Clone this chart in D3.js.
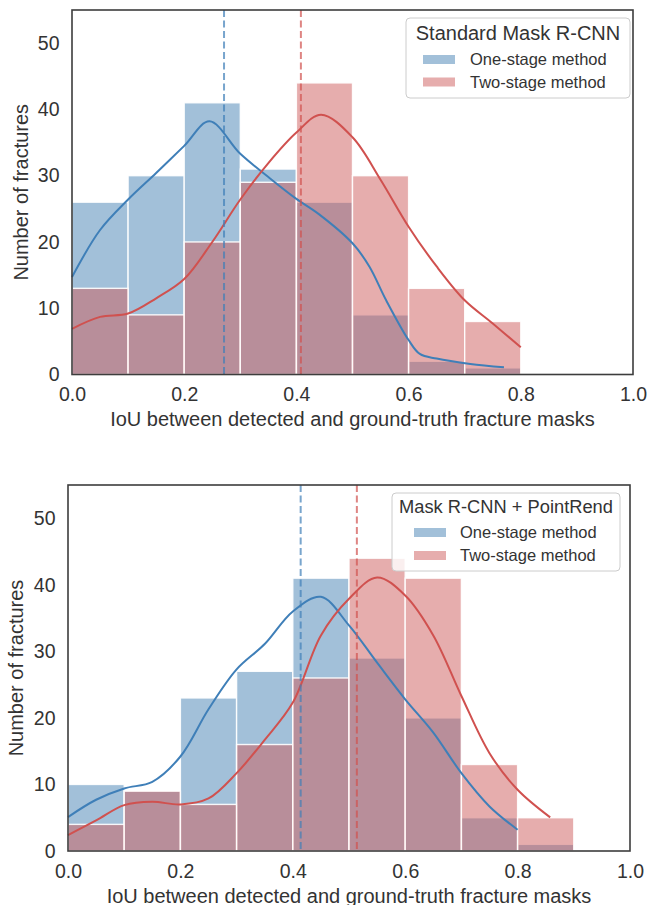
<!DOCTYPE html>
<html><head><meta charset="utf-8">
<script src="https://cdn.jsdelivr.net/npm/d3@7/dist/d3.min.js"></script>
<style>body{margin:0;background:#fff} svg{display:block}</style>
</head><body>
<svg id="c" width="649" height="905"></svg>
<script>
// ---------- data ----------
const binEdges = [0, 0.1, 0.2, 0.3, 0.4, 0.5, 0.6, 0.7, 0.8, 0.9];
const xTicks = [0, 0.2, 0.4, 0.6, 0.8, 1.0];
const yTicks = [0, 10, 20, 30, 40, 50];
const seriesNames = ["One-stage method", "Two-stage method"];
const xLabel = "IoU between detected and ground-truth fracture masks";
const yLabel = "Number of fractures";

// Panel 1: Standard Mask R-CNN
const topTitle = "Standard Mask R-CNN";
const topOne = [26, 30, 41, 31, 26, 9, 2, 1];
const topTwo = [13, 9, 20, 29, 44, 30, 13, 8];
const topMeans = [0.271, 0.408];
const topKdeOneX = [0, 0.05, 0.1, 0.15, 0.2, 0.245, 0.3, 0.35, 0.4, 0.44, 0.5, 0.53, 0.56, 0.6, 0.62, 0.65, 0.71, 0.77];
const topKdeOneY = [14.7, 21.8, 26.4, 30.4, 34.5, 38.2, 33.3, 29.8, 26.5, 24.2, 19.8, 16.3, 11.2, 5.2, 3.1, 2.4, 1.6, 1.1];
const topKdeTwoX = [0, 0.05, 0.1, 0.15, 0.2, 0.25, 0.3, 0.35, 0.4, 0.444, 0.5, 0.55, 0.6, 0.65, 0.7, 0.75, 0.8];
const topKdeTwoY = [6.9, 8.7, 9.2, 11.5, 14.4, 20.0, 26.4, 31.9, 36.5, 39.2, 35.8, 29.4, 22.3, 16.3, 11.2, 7.7, 4.1];

// Panel 2: Mask R-CNN + PointRend
const botTitle = "Mask R-CNN + PointRend";
const botOne = [10, 9, 23, 27, 41, 29, 20, 5, 1];
const botTwo = [4, 9, 7, 16, 26, 44, 41, 13, 5];
const botMeans = [0.414, 0.514];
const botKdeOneX = [0, 0.05, 0.1, 0.15, 0.2, 0.25, 0.3, 0.35, 0.4, 0.45, 0.5, 0.55, 0.6, 0.65, 0.7, 0.75, 0.8];
const botKdeOneY = [5.1, 7.7, 9.4, 10.4, 14.2, 21.3, 27.3, 31.1, 36.0, 38.2, 33.9, 28.3, 22.8, 17.8, 11.7, 6.7, 3.2];
const botKdeTwoX = [0, 0.05, 0.1, 0.15, 0.2, 0.25, 0.3, 0.35, 0.4, 0.45, 0.5, 0.55, 0.6, 0.65, 0.7, 0.75, 0.8, 0.858];
const botKdeTwoY = [2.4, 4.6, 6.9, 7.4, 7.0, 7.9, 11.7, 16.7, 22.3, 32.4, 37.9, 41.1, 38.4, 32.4, 23.3, 14.7, 9.2, 5.05];

// ---------- style ----------
const barColors = ["#4682b4", "#cd5c5c"];
const lineColors = ["#3f7fb8", "#d0514f"];
const textColor = "#333333";
const font = "'Liberation Sans', Arial, Helvetica, sans-serif";

const svg = d3.select("#c");

function drawPanel(cfg) {
  const b = cfg.box;
  const x = d3.scaleLinear().domain([0, 1]).range([b.left, b.right]);
  const y = d3.scaleLinear().domain([0, 55]).range([b.bottom, b.top]);
  const g = svg.append("g");

  // bars
  [cfg.one, cfg.two].forEach((vals, i) => {
    g.append("g").selectAll("rect").data(vals).enter().append("rect")
      .attr("x", (d, j) => x(binEdges[j]))
      .attr("width", (d, j) => x(binEdges[j + 1]) - x(binEdges[j]))
      .attr("y", d => y(d))
      .attr("height", d => y(0) - y(d))
      .attr("fill", barColors[i]).attr("fill-opacity", 0.5)
      .attr("stroke", "#ffffff").attr("stroke-opacity", 0.9).attr("stroke-width", 1.4);
  });

  // kde lines
  const line = d3.line().x(d => x(d[0])).y(d => y(d[1])).curve(d3.curveCatmullRom.alpha(0.5));
  [[cfg.k1x, cfg.k1y], [cfg.k2x, cfg.k2y]].forEach((k, i) => {
    g.append("path").datum(k[0].map((v, j) => [v, k[1][j]]))
      .attr("d", line).attr("fill", "none")
      .attr("stroke", lineColors[i]).attr("stroke-width", 2);
  });

  // mean lines
  cfg.means.forEach((m, i) => {
    g.append("line").attr("x1", x(m)).attr("x2", x(m))
      .attr("y1", y(55)).attr("y2", y(0))
      .attr("stroke", lineColors[i]).attr("stroke-opacity", 0.7)
      .attr("stroke-width", 2).attr("stroke-dasharray", "7,3.5");
  });

  // axes
  const ax = g.append("g").attr("transform", `translate(0,${b.bottom})`)
    .call(d3.axisBottom(x).tickValues(xTicks).tickSize(0).tickPadding(13).tickFormat(d3.format(".1f")));
  const ay = g.append("g").attr("transform", `translate(${b.left},0)`)
    .call(d3.axisLeft(y).tickValues(yTicks).tickSize(0).tickPadding(12.5));
  [ax, ay].forEach(a => {
    a.select(".domain").remove();
    a.selectAll("text").attr("fill", textColor).style("font-family", font).style("font-size", "19.5px");
  });

  // frame
  g.append("rect").attr("x", b.left).attr("y", b.top)
    .attr("width", b.right - b.left).attr("height", b.bottom - b.top)
    .attr("fill", "none").attr("stroke", "#3d3d3d").attr("stroke-width", 1.6);

  // axis labels
  g.append("text").attr("x", (b.left + b.right) / 2).attr("y", b.bottom + 51.5)
    .attr("text-anchor", "middle").attr("fill", textColor)
    .style("font-family", font).style("font-size", "20px").text(xLabel);
  g.append("text").attr("transform", `translate(${cfg.yLabelX},${(b.top + b.bottom) / 2}) rotate(-90)`)
    .attr("text-anchor", "middle").attr("fill", textColor)
    .style("font-family", font).style("font-size", "20px").text(yLabel);

  // legend
  const L = cfg.legend;
  const lg = g.append("g");
  lg.append("rect").attr("x", L.x).attr("y", L.y).attr("width", L.w).attr("height", L.h)
    .attr("rx", 4).attr("fill", "#ffffff").attr("fill-opacity", 0.8)
    .attr("stroke", "#cccccc").attr("stroke-width", 1);
  lg.append("text").attr("x", L.x + L.w / 2).attr("y", L.y + L.titleDy)
    .attr("text-anchor", "middle").attr("fill", textColor)
    .style("font-family", font).style("font-size", L.titleSize + "px").text(cfg.title);
  seriesNames.forEach((name, i) => {
    lg.append("rect").attr("x", L.x + L.patchDx).attr("y", L.y + L.row0 + i * L.rowH - 10)
      .attr("width", 32).attr("height", 9)
      .attr("fill", barColors[i]).attr("fill-opacity", 0.5);
    lg.append("text").attr("x", L.x + L.textDx).attr("y", L.y + L.row0 + i * L.rowH)
      .attr("fill", textColor).style("font-family", font).style("font-size", "16.5px").text(name);
  });
}

drawPanel({
  box: {left: 72, right: 633, top: 10, bottom: 374.5},
  one: topOne, two: topTwo, means: topMeans,
  k1x: topKdeOneX, k1y: topKdeOneY, k2x: topKdeTwoX, k2y: topKdeTwoY,
  title: topTitle, yLabelX: 27.5,
  legend: {x: 406, y: 18, w: 224, h: 80, titleDy: 22, titleSize: 20, patchDx: 17, textDx: 64, row0: 47, rowH: 22.5}
});

drawPanel({
  box: {left: 68, right: 630, top: 485, bottom: 851},
  one: botOne, two: botTwo, means: botMeans,
  k1x: botKdeOneX, k1y: botKdeOneY, k2x: botKdeTwoX, k2y: botKdeTwoY,
  title: botTitle, yLabelX: 23,
  legend: {x: 392, y: 493, w: 228, h: 78, titleDy: 20, titleSize: 18.3, patchDx: 22, textDx: 68, row0: 45, rowH: 23}
});
</script>
</body></html>
